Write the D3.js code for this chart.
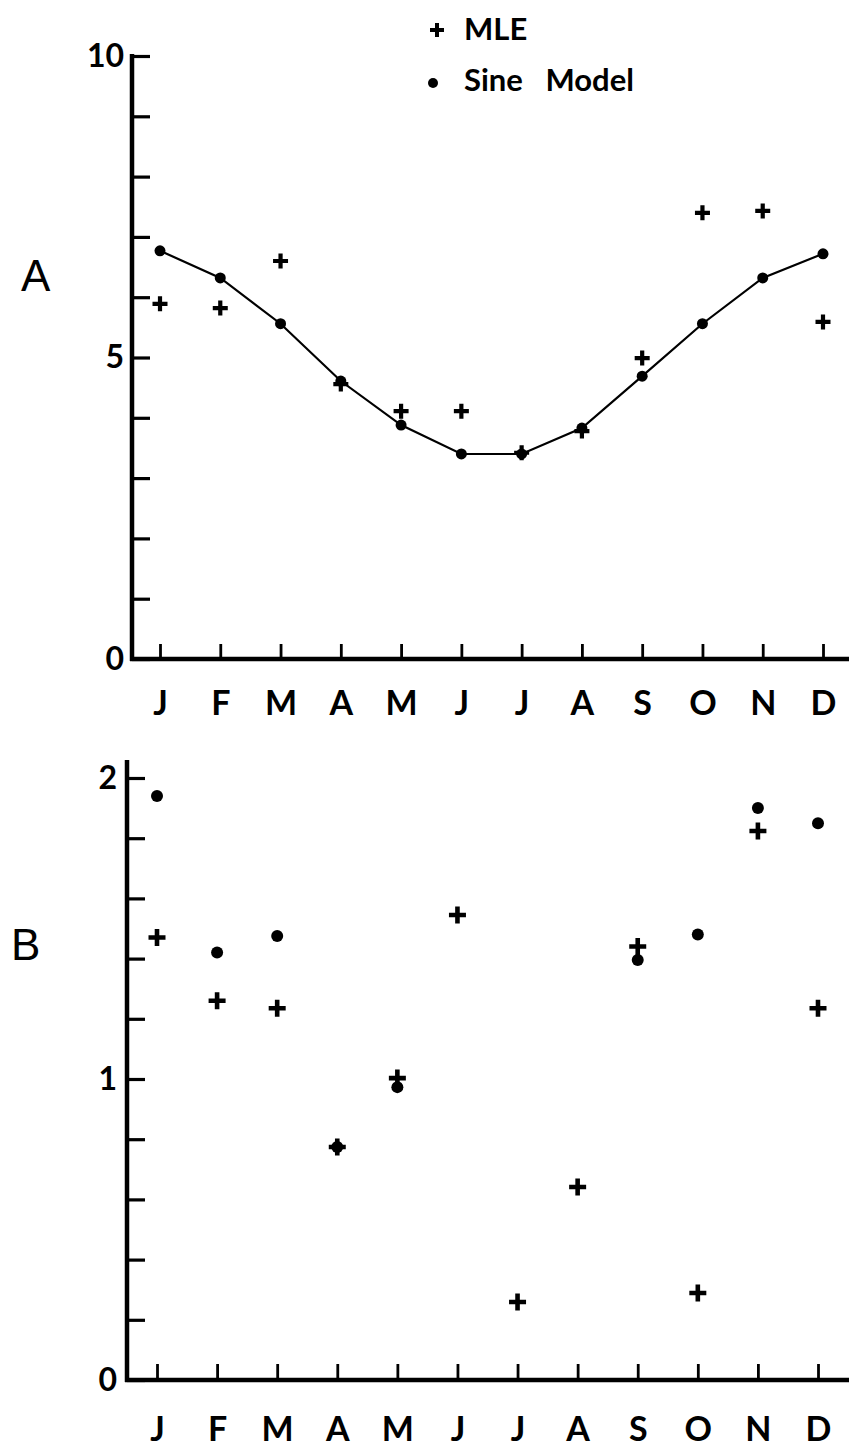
<!DOCTYPE html>
<html>
<head>
<meta charset="utf-8">
<script src="https://cdn.jsdelivr.net/npm/d3@7"></script>
<style>
  html, body { margin: 0; padding: 0; background: #fff; }
  svg { display: block; }
  .num { font-family: Lato, "DejaVu Sans", sans-serif; font-weight: 700; font-size: 32px; fill: #000; }
  .mon { font-family: Lato, "DejaVu Sans", sans-serif; font-weight: 700; font-size: 34px; fill: #000; }
  .leg { font-family: Lato, "DejaVu Sans", sans-serif; font-weight: 700; font-size: 31px; fill: #000; }
  .panel { font-family: "Liberation Sans", Arial, sans-serif; font-weight: 400; font-size: 44px; fill: #000; }
</style>
</head>
<body>
<script>
// Month initials along both x axes
const months = ["J", "F", "M", "A", "M", "J", "J", "A", "S", "O", "N", "D"];

// Panel A: monthly estimates with fitted sine curve
const sineA = [6.77, 6.32, 5.56, 4.61, 3.88, 3.40, 3.40, 3.83, 4.69, 5.56, 6.32, 6.72];
const mleA  = [5.89, 5.82, 6.60, 4.56, 4.11, 4.11, 3.42, 3.78, 4.99, 7.40, 7.43, 5.59];
const ticksA = [0, 1, 2, 3, 4, 5, 6, 7, 8, 9, 10];
const labelsA = [0, 5, 10];

// Panel B: second parameter (no sine value for Jun, Jul, Aug)
const sineB = [1.94, 1.42, 1.475, 0.774, 0.973, null, null, null, 1.395, 1.48, 1.90, 1.85];
const mleB  = [1.47, 1.26, 1.235, 0.774, 1.003, 1.545, 0.259, 0.641, 1.44, 0.289, 1.824, 1.235];
const ticksB = [0, 0.2, 0.4, 0.6, 0.8, 1, 1.2, 1.4, 1.6, 1.8, 2];
const labelsB = [0, 1, 2];

const W = 849, H = 1451;
const svg = d3.select("body").append("svg").attr("width", W).attr("height", H);

function plusPath(s) {
  return `M${-s},0H${s}M0,${-s}V${s}`;
}

function panel(cfg) {
  const x = d3.scaleLinear().domain([0, 11]).range(cfg.xRange);
  const y = d3.scaleLinear().domain(cfg.yDomain).range(cfg.yRange);
  const g = svg.append("g");

  // y axis: inward ticks, labels only at selected values
  const yAxis = d3.axisLeft(y)
    .tickValues(cfg.ticks)
    .tickSize(-cfg.yTickLen)
    .tickPadding(cfg.yPad)
    .tickFormat(d => cfg.labels.includes(d) ? String(d) : "");
  const ya = g.append("g").attr("transform", `translate(${cfg.axisX},0)`).call(yAxis);
  ya.select(".domain").remove();
  ya.selectAll(".tick line").attr("stroke", "#000").attr("stroke-width", 3.2);
  ya.selectAll(".tick text").attr("class", "num").attr("font-family", null).attr("font-size", null);

  // x axis: upward ticks, month initials below
  const xAxis = d3.axisBottom(x)
    .tickValues(d3.range(12))
    .tickSize(-cfg.xTickLen)
    .tickPadding(cfg.xPad)
    .tickFormat(i => months[i]);
  const xa = g.append("g").attr("transform", `translate(0,${y(0)})`).call(xAxis);
  xa.select(".domain").remove();
  xa.selectAll(".tick line").attr("stroke", "#000").attr("stroke-width", 2.8);
  xa.selectAll(".tick text").attr("class", "mon").attr("font-family", null).attr("font-size", null);

  // axis lines
  g.append("line")
    .attr("x1", cfg.axisX).attr("x2", cfg.axisX)
    .attr("y1", cfg.axisTop).attr("y2", y(0) + 2)
    .attr("stroke", "#000").attr("stroke-width", 4.5);
  g.append("line")
    .attr("x1", cfg.axisX - 2).attr("x2", W)
    .attr("y1", y(0)).attr("y2", y(0))
    .attr("stroke", "#000").attr("stroke-width", 4.5);

  // fitted curve
  if (cfg.line) {
    g.append("path")
      .datum(cfg.sine)
      .attr("fill", "none").attr("stroke", "#000").attr("stroke-width", 2.2)
      .attr("d", d3.line().x((d, i) => x(i)).y(d => y(d)));
  }

  // sine model dots
  g.selectAll(".dot").data(cfg.sine.map((v, i) => ({ v, i })).filter(d => d.v !== null))
    .join("circle")
    .attr("cx", d => x(d.i)).attr("cy", d => y(d.v))
    .attr("r", cfg.dotR).attr("fill", "#000");

  // MLE plus marks
  g.selectAll(".plus").data(cfg.mle.map((v, i) => ({ v, i })))
    .join("path")
    .attr("transform", d => `translate(${x(d.i)},${y(d.v)})`)
    .attr("d", plusPath(cfg.plusR))
    .attr("stroke", "#000").attr("stroke-width", cfg.plusW).attr("fill", "none");

  // panel letter
  svg.append("text").attr("class", "panel")
    .attr("x", cfg.letterX).attr("y", cfg.letterY).text(cfg.letter);
}

panel({
  letter: "A", letterX: 21, letterY: 291,
  xRange: [160, 823], yDomain: [0, 10], yRange: [659, 56],
  axisX: 132, axisTop: 54, ticks: ticksA, labels: labelsA,
  yTickLen: 18, yPad: 8, xTickLen: 15, xPad: 32,
  sine: sineA, mle: mleA, line: true, dotR: 5.5, plusR: 7.5, plusW: 4.2
});

panel({
  letter: "B", letterX: 11, letterY: 960,
  xRange: [157, 818], yDomain: [0, 2], yRange: [1380, 778],
  axisX: 127, axisTop: 760, ticks: ticksB, labels: labelsB,
  yTickLen: 18, yPad: 10, xTickLen: 16, xPad: 37,
  sine: sineB, mle: mleB, line: false, dotR: 6, plusR: 8.5, plusW: 4.6
});

// legend
const leg = svg.append("g");
leg.append("path").attr("transform", "translate(437,30)")
  .attr("d", plusPath(7)).attr("stroke", "#000").attr("stroke-width", 4);
leg.append("text").attr("class", "leg").attr("x", 464).attr("y", 40).text("MLE");
leg.append("circle").attr("cx", 433).attr("cy", 83).attr("r", 5).attr("fill", "#000");
leg.append("text").attr("class", "leg").attr("x", 464).attr("y", 91)
  .attr("xml:space", "preserve").text("Sine\u00a0\u00a0 Model");
</script>
</body>
</html>
